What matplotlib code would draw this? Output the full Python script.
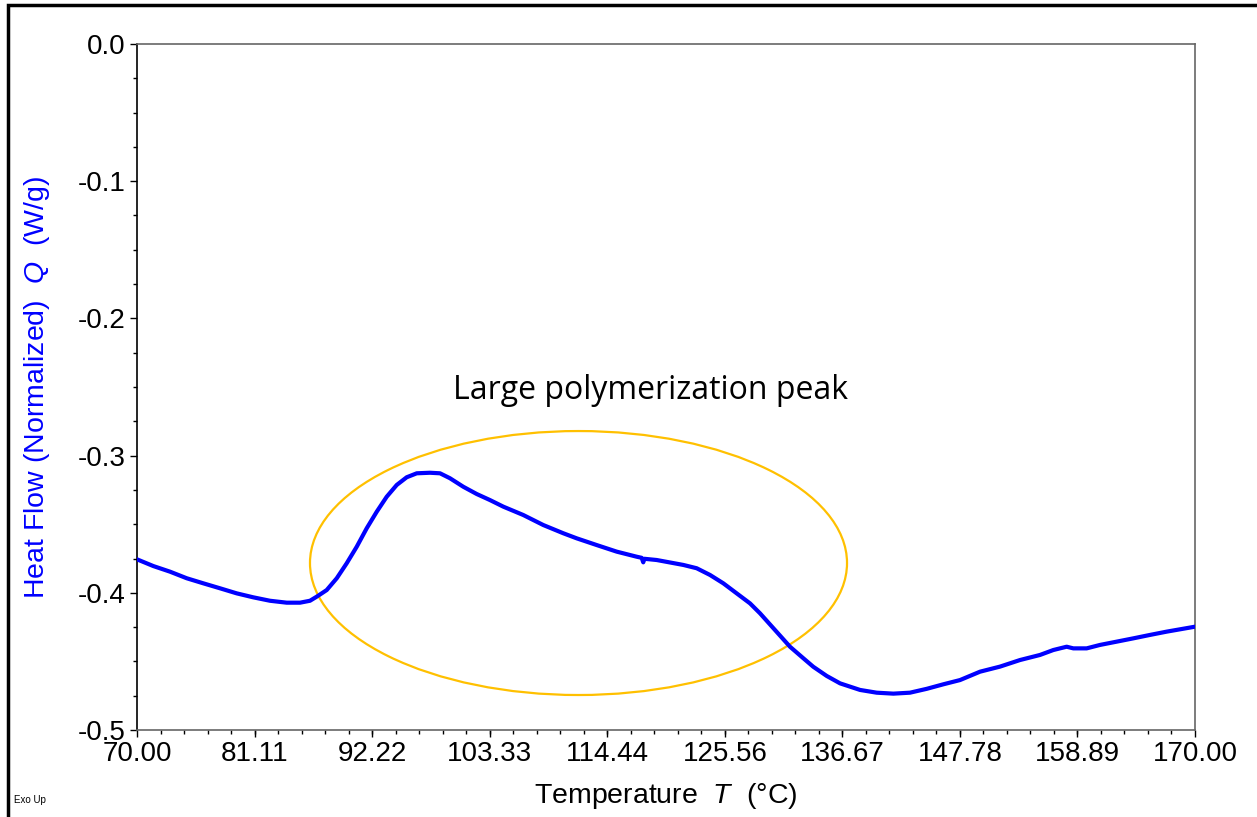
import matplotlib
matplotlib.use("Agg")
import matplotlib.pyplot as plt
from matplotlib.patches import Ellipse, Rectangle
import numpy as np

# Data
temperature = [70.00, 71.54, 73.12, 74.70, 76.27, 77.84, 79.42, 80.99, 82.57, 84.15,
               85.41, 86.35, 86.99, 87.93, 88.88, 89.82, 90.77, 91.71, 92.66, 93.60,
               94.55, 95.49, 96.44, 97.69, 98.64, 99.58, 100.84, 102.11, 103.36, 104.62,
               106.51, 108.40, 110.29, 111.56, 113.45, 115.34, 117.23, 117.70, 117.85,
               117.95, 119.12, 121.64, 122.90, 124.16, 125.42, 126.68, 127.94, 128.88,
               130.30, 131.72, 132.98, 133.92, 135.19, 136.45, 138.34, 139.91, 141.49,
               143.06, 144.64, 146.21, 147.79, 149.68, 151.57, 153.46, 155.35, 156.61,
               157.87, 158.50, 159.76, 161.02, 162.60, 164.17, 165.75, 167.33, 170.00]
heat_flow = [-0.3756, -0.3805, -0.3846, -0.3894, -0.3931, -0.3967, -0.4004, -0.4033,
             -0.4058, -0.4072, -0.4072, -0.4058, -0.4028, -0.3980, -0.3894, -0.3785,
             -0.3664, -0.3530, -0.3409, -0.3300, -0.3214, -0.3158, -0.3129, -0.3125,
             -0.3129, -0.3165, -0.3227, -0.3280, -0.3324, -0.3372, -0.3433, -0.3506,
             -0.3566, -0.3603, -0.3652, -0.3700, -0.3737, -0.3745, -0.3778, -0.3752,
             -0.3761, -0.3797, -0.3821, -0.3870, -0.3931, -0.4004, -0.4077, -0.4149,
             -0.4271, -0.4393, -0.4477, -0.4539, -0.4606, -0.4660, -0.4708, -0.4728,
             -0.4735, -0.4728, -0.4700, -0.4667, -0.4636, -0.4575, -0.4538, -0.4490,
             -0.4453, -0.4417, -0.4393, -0.4405, -0.4405, -0.4380, -0.4356, -0.4332,
             -0.4307, -0.4283, -0.4247]
x_ticks = [70.00, 81.11, 92.22, 103.33, 114.44, 125.56, 136.67, 147.78, 158.89, 170.00]
y_ticks = [0.0, -0.1, -0.2, -0.3, -0.4, -0.5]
ellipse_center = (111.73, -0.3783)
ellipse_size = (50.76, 0.1924)
annotation = "Large polymerization peak"

plt.rcParams['font.family'] = ['Liberation Sans', 'DejaVu Sans']
plt.rcParams['mathtext.fontset'] = 'custom'
plt.rcParams['mathtext.it'] = 'Liberation Sans:italic'
plt.rcParams['mathtext.rm'] = 'Liberation Sans'

fig = plt.figure(figsize=(12.57, 8.17), dpi=100)
ax = fig.add_axes([137/1257, 1-730/817, (1195-137)/1257, (730-44)/817])

ax.plot(temperature, heat_flow, color='#0000FF', lw=3.0, solid_capstyle='round',
        solid_joinstyle='round', zorder=3)
ax.add_patch(Ellipse(ellipse_center, ellipse_size[0], ellipse_size[1], fill=False,
                     edgecolor='#FFC000', lw=1.6, zorder=2))
ax.text(118.58, -0.2522, annotation, ha='center', va='center', fontsize=23,
        family='Open Sans', color='black')

ax.set_xlim(70, 170)
ax.set_ylim(-0.5, 0.0)
ax.set_xticks(x_ticks)
ax.set_xticklabels([f"{t:.2f}" for t in x_ticks])
ax.set_yticks(y_ticks)
ax.set_yticklabels([f"{v:.1f}" for v in y_ticks])
ax.set_xticks(np.linspace(70, 170, 46), minor=True)
ax.set_yticks(np.linspace(-0.5, 0.0, 21), minor=True)
ax.tick_params(axis='both', which='major', length=5, width=1, labelsize=20, pad=3, color='black')
ax.tick_params(axis='both', which='minor', length=3, width=1, color='black')
for s in ['top', 'right', 'bottom']:
    ax.spines[s].set_color('#666666')
    ax.spines[s].set_linewidth(1.2)
ax.spines['left'].set_color('black')
ax.spines['left'].set_linewidth(1.2)

ax.set_xlabel(r"Temperature  $\mathit{T}$  (°C)", fontsize=20.5, labelpad=10)
ax.set_ylabel(r"Heat Flow (Normalized)  $\mathit{Q}$  (W/g)", fontsize=20.5, color='#0000FF', labelpad=19)

fig.text(14/1257, 1-800/817, "Exo Up", fontsize=7, ha='left', va='center')

# outer frame
fig.patches.append(Rectangle((8/1257, -0.1), 1.2, 1-5/817+0.1, transform=fig.transFigure,
                             fill=False, edgecolor='black', lw=2.5))

fig.savefig("out.png", dpi=100)
